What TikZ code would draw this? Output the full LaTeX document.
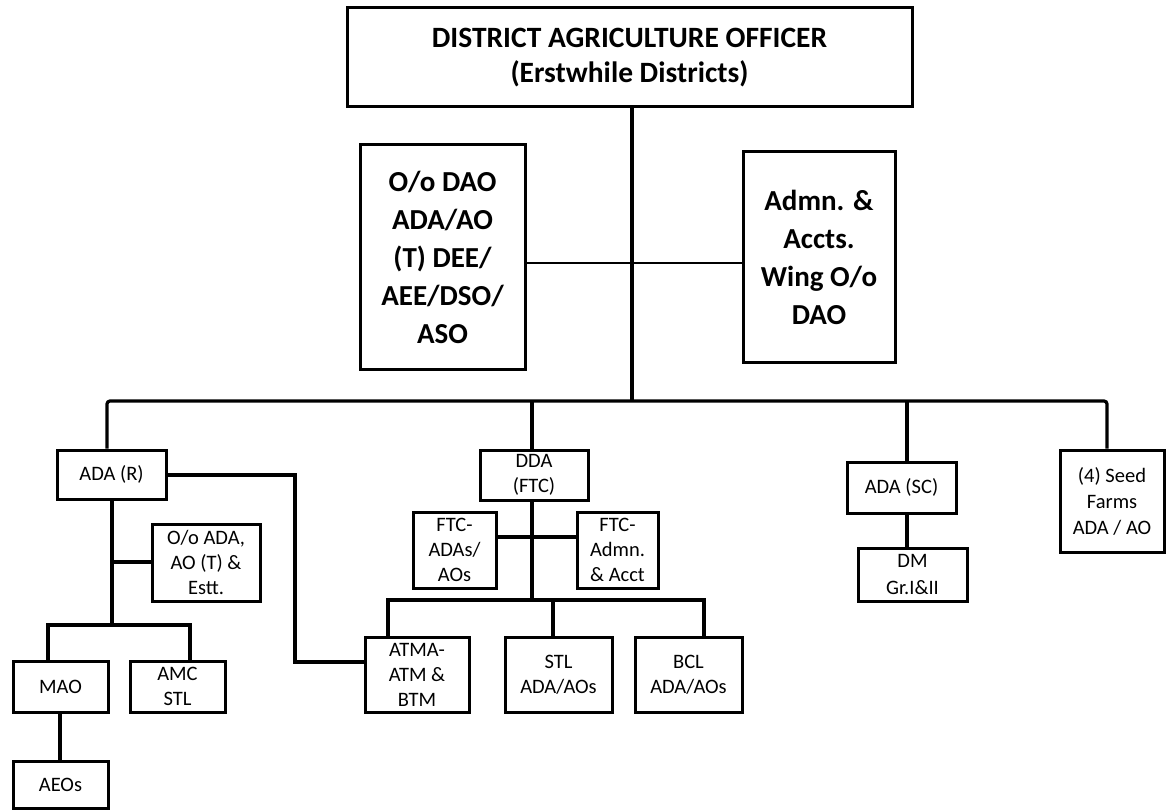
\documentclass[tikz,border=0pt]{standalone}
\usepackage{fontspec}
\setmainfont{Carlito}
\begin{document}
\begin{tikzpicture}[x=1pt,y=-1pt,
  box/.style={draw,line width=3pt,inner sep=0pt,align=center,font=\fontsize{20.5}{25}\selectfont},
  bigbox/.style={draw,line width=3pt,inner sep=0pt,align=center,font=\fontsize{29}{38}\selectfont\bfseries},
  link/.style={line width=3.2pt},
  thin/.style={line width=2.6pt}]
\useasboundingbox (0,0) rectangle (1167,810);
% main boxes
\node[bigbox,minimum width=565pt,minimum height=99pt,font=\fontsize{29.5}{35}\selectfont\bfseries] (top) at (629.5,57.5) {DISTRICT AGRICULTURE OFFICER\\(Erstwhile Districts)};
\node[bigbox,minimum width=165pt,minimum height=224pt] (oodao) at (442.5,257) {O/o DAO\\ADA/AO\\(T) DEE/\\AEE/DSO/\\ASO};
\node[bigbox,minimum width=152pt,minimum height=210pt] (admn) at (819,257) {Admn. \&\\Accts.\\Wing O/o\\DAO};
% second level
\node[box,minimum width=109pt,minimum height=49pt] (adar) at (111.5,474.5) {ADA (R)};
\node[box,minimum width=108pt,minimum height=50pt] (dda) at (534,475) {DDA\\(FTC)};
\node[box,minimum width=109pt,minimum height=51pt] (adasc) at (901.5,487.5) {ADA (SC)};
\node[box,minimum width=109pt,minimum height=53pt,font=\fontsize{20.5}{27}\selectfont] (dm) at (912.5,574.5) {DM\\Gr.I\&II};
\node[box,minimum width=104pt,minimum height=102pt,font=\fontsize{20.5}{26}\selectfont] (seed) at (1112,501) {(4) Seed\\Farms\\ADA / AO};
% left branch
\node[box,minimum width=108pt,minimum height=77pt] (ooada) at (206,562.5) {O/o ADA,\\AO (T) \&\\Estt.};
\node[box,minimum width=95pt,minimum height=51pt] (mao) at (60.5,686.5) {MAO};
\node[box,minimum width=95pt,minimum height=51pt] (amc) at (177.5,686.5) {AMC\\STL};
\node[box,minimum width=95pt,minimum height=47pt] (aeos) at (60.5,784.5) {AEOs};
% centre branch
\node[box,minimum width=83pt,minimum height=76pt] (ftcada) at (454.5,550) {FTC-\\ADAs/\\AOs};
\node[box,minimum width=81pt,minimum height=76pt] (ftcadmn) at (617.5,550) {FTC-\\Admn.\\\& Acct};
\node[box,minimum width=104pt,minimum height=75pt] (atma) at (417,674.5) {ATMA-\\ATM \&\\BTM};
\node[box,minimum width=107pt,minimum height=75pt] (stl) at (558.5,674.5) {STL\\ADA/AOs};
\node[box,minimum width=107pt,minimum height=75pt] (bcl) at (688.5,674.5) {BCL\\ADA/AOs};
% junction coordinates
\coordinate (bus) at (632,401);
\coordinate (side) at (632,263);
\coordinate (busL) at (107,401);
\coordinate (busR) at (1107,401);
\coordinate (ddaX) at (532,401);
\coordinate (scX) at (907,401);
\coordinate (rX) at (112,625);
\coordinate (rJ) at (112,562);
\coordinate (subL) at (48,625);
\coordinate (subR) at (190,625);
\coordinate (maoX) at (60,712);
\coordinate (rT) at (295,475);
\coordinate (rB) at (295,662);
\coordinate (cX) at (532,600);
\coordinate (cJ) at (532,537);
\coordinate (cL) at (388,600);
\coordinate (cM) at (553,600);
\coordinate (cR) at (704,600);
% connectors
\draw[link] (top.south -| bus) -- (bus);
\draw[thin] (oodao.east |- side) -- (admn.west |- side);
\draw[link,rounded corners=3pt] (adar.north -| busL) -- (busL) -- (busR) -- (seed.north -| busR);
\draw[link] (ddaX) -- (dda.north -| ddaX);
\draw[link] (scX) -- (adasc.north -| scX);
\draw[link] (adasc.south -| scX) -- (dm.north -| scX);
\draw[link] (adar.south -| rX) -- (rX);
\draw[link] (rJ) -- (ooada.west |- rJ);
\draw[link] (mao.north -| subL) -- (subL) -- (subR) -- (amc.north -| subR);
\draw[link] (maoX) -- (aeos.north -| maoX);
\draw[link] (adar.east |- rT) -- (rT) -- (rB) -- (atma.west |- rB);
\draw[link] (dda.south -| cX) -- (cX);
\draw[link] (ftcada.east |- cJ) -- (ftcadmn.west |- cJ);
\draw[link] (atma.north -| cL) -- (cL) -- (cR) -- (bcl.north -| cR);
\draw[link] (cM) -- (stl.north -| cM);
\end{tikzpicture}
\end{document}
